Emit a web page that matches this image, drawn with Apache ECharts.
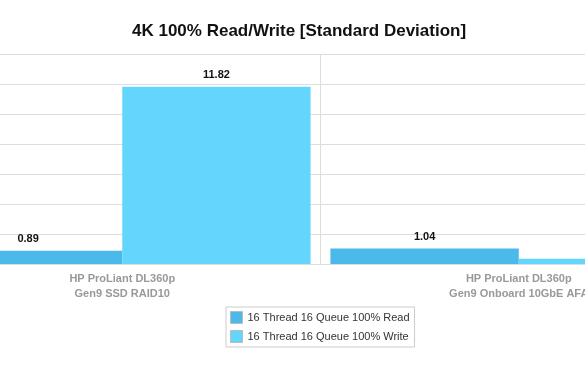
<!DOCTYPE html>
<html>
<head>
<meta charset="utf-8">
<script src="https://cdn.jsdelivr.net/npm/echarts@6/dist/echarts.min.js"></script>
<style>
html,body{margin:0;padding:0;background:#fff;overflow:hidden}
body{width:585px;height:378px;position:relative}
#c{width:793px;height:378px;position:absolute;left:-76px;top:0}
</style>
</head>
<body>
<div id="c"></div>
<script>
var titleText = '4K 100% Read/Write [Standard Deviation]';
var categories = ['HP ProLiant DL360p\nGen9 SSD RAID10', 'HP ProLiant DL360p\nGen9 Onboard 10GbE AFA'];
var seriesNames = ['16 Thread 16 Queue 100% Read', '16 Thread 16 Queue 100% Write'];
var readValues = [0.89, 1.04];
var writeValues = [11.82, 0.35];
var yMin = 0, yMax = 14, yStep = 2;

var FONT = 'Liberation Sans, Arial, sans-serif';
var chart = echarts.init(document.getElementById('c'), null, {renderer: 'canvas'});
var labelStyle = {show: true, position: 'top', color: '#111', fontWeight: 'bold', fontSize: 11, fontFamily: FONT, distance: 6};
chart.setOption({
  animation: false,
  textStyle: {fontFamily: FONT},
  title: {
    text: titleText, left: 208, top: 23, padding: 0,
    textStyle: {fontSize: 17, fontWeight: 'bold', color: '#111', fontFamily: FONT}
  },
  grid: {left: 0, right: 0, top: 54, bottom: 114, containLabel: false},
  legend: {
    orient: 'vertical', left: 302, top: 307,
    padding: [4, 5, 4, 4], itemGap: 6, itemWidth: 12, itemHeight: 12,
    borderColor: '#ccc', borderWidth: 1,
    icon: 'rect',
    itemStyle: {borderColor: '#bbb', borderWidth: 1},
    textStyle: {fontSize: 11, color: '#333', fontFamily: FONT},
    data: seriesNames
  },
  xAxis: {
    type: 'category', data: categories, boundaryGap: true,
    axisLine: {show: true, lineStyle: {color: '#ddd'}},
    axisTick: {show: false},
    splitLine: {show: true, lineStyle: {color: '#ddd'}},
    axisLabel: {color: '#999', fontWeight: 'bold', fontSize: 11, lineHeight: 15, margin: 7, interval: 0}
  },
  yAxis: {
    type: 'value', min: yMin, max: yMax, interval: yStep,
    axisLabel: {show: false}, axisLine: {show: false}, axisTick: {show: false},
    splitLine: {show: true, lineStyle: {color: '#ddd'}}
  },
  series: [
    {name: seriesNames[0], type: 'bar', data: readValues, barCategoryGap: '5%', barGap: '0%',
     itemStyle: {color: '#4cb9eb'}, label: labelStyle},
    {name: seriesNames[1], type: 'bar', data: writeValues, barCategoryGap: '5%', barGap: '0%',
     itemStyle: {color: '#64d6fe'}, label: labelStyle}
  ]
});
</script>
</body>
</html>
